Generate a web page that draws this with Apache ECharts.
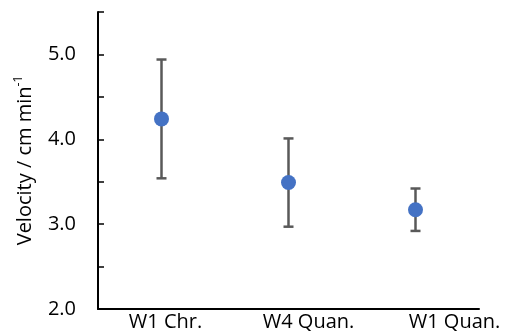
<!DOCTYPE html>
<html>
<head>
<meta charset="utf-8">
<script src="https://cdn.jsdelivr.net/npm/echarts@6/dist/echarts.min.js"></script>
<style>
  html, body { margin: 0; padding: 0; background: #fff; }
  #chart { width: 507px; height: 334px; }
</style>
</head>
<body>
<div id="chart"></div>
<script>
// 分类与数据
const categories = ['W1 Chr.', 'W4 Quan.', 'W1 Quan.']
const velocity = [4.24, 3.49, 3.17]
const errors = [0.70, 0.52, 0.25]
// x labels sit a bit right of the points in the original
const labelShift = [4, 20, 39]

const FONT = '"Open Sans", "Liberation Sans", sans-serif'

const chart = echarts.init(document.getElementById('chart'))

const errData = categories.map((c, i) => [i, velocity[i] - errors[i], velocity[i] + errors[i]])

const option = {
  animation: false,
  grid: { left: 98, right: 28, top: 12, bottom: 25, containLabel: false, outerBoundsMode: 'none' },
  xAxis: {
    type: 'category',
    data: categories,
    boundaryGap: true,
    axisLine: { lineStyle: { color: '#000', width: 2 } },
    axisTick: { show: false },
    axisLabel: {
      interval: 0,
      color: '#000',
      fontFamily: FONT,
      fontSize: 20,
      margin: 3,
      formatter: (v, i) => '{s' + i + '|' + v + '}',
      rich: {
        s0: { padding: [0, 0, 0, labelShift[0] * 2], fontFamily: FONT, fontSize: 20, color: '#000' },
        s1: { padding: [0, 0, 0, labelShift[1] * 2], fontFamily: FONT, fontSize: 20, color: '#000' },
        s2: { padding: [0, 0, 0, labelShift[2] * 2], fontFamily: FONT, fontSize: 20, color: '#000' }
      }
    }
  },
  yAxis: {
    type: 'value',
    min: 2,
    max: 5.5,
    interval: 0.5,
    name: 'Velocity / cm min{sup|-1}',
    nameLocation: 'middle',
    nameRotate: 90,
    nameGap: 61,
    nameTextStyle: {
      color: '#000',
      fontFamily: FONT,
      fontSize: 20,
      lineHeight: 24,
      rich: {
        sup: { fontSize: 12, verticalAlign: 'top', lineHeight: 24, fontFamily: FONT, color: '#000' }
      }
    },
    splitLine: { show: false },
    axisLine: { show: true, lineStyle: { color: '#000', width: 2 } },
    axisTick: { show: true, inside: true, length: 6, lineStyle: { color: '#000', width: 1.5 } },
    axisLabel: {
      color: '#000',
      fontFamily: FONT,
      fontSize: 20,
      margin: 22,
      formatter: v => (Math.abs(v - Math.round(v)) < 1e-6 ? v.toFixed(1) : '')
    }
  },
  series: [
    {
      type: 'custom',
      data: errData,
      z: 2,
      renderItem: (params, api) => {
        const x = api.value(0)
        const lo = api.coord([x, api.value(1)])
        const hi = api.coord([x, api.value(2)])
        const cap = 5
        const style = { stroke: '#595959', lineWidth: 2.5, fill: null }
        return {
          type: 'group',
          children: [
            { type: 'line', shape: { x1: lo[0], y1: lo[1], x2: hi[0], y2: hi[1] }, style },
            { type: 'line', shape: { x1: hi[0] - cap, y1: hi[1], x2: hi[0] + cap, y2: hi[1] }, style },
            { type: 'line', shape: { x1: lo[0] - cap, y1: lo[1], x2: lo[0] + cap, y2: lo[1] }, style }
          ]
        }
      }
    },
    {
      type: 'scatter',
      data: velocity,
      z: 3,
      symbol: 'circle',
      symbolSize: 15,
      itemStyle: { color: '#4472C4', opacity: 1 }
    }
  ]
}

chart.setOption(option)
</script>
</body>
</html>
